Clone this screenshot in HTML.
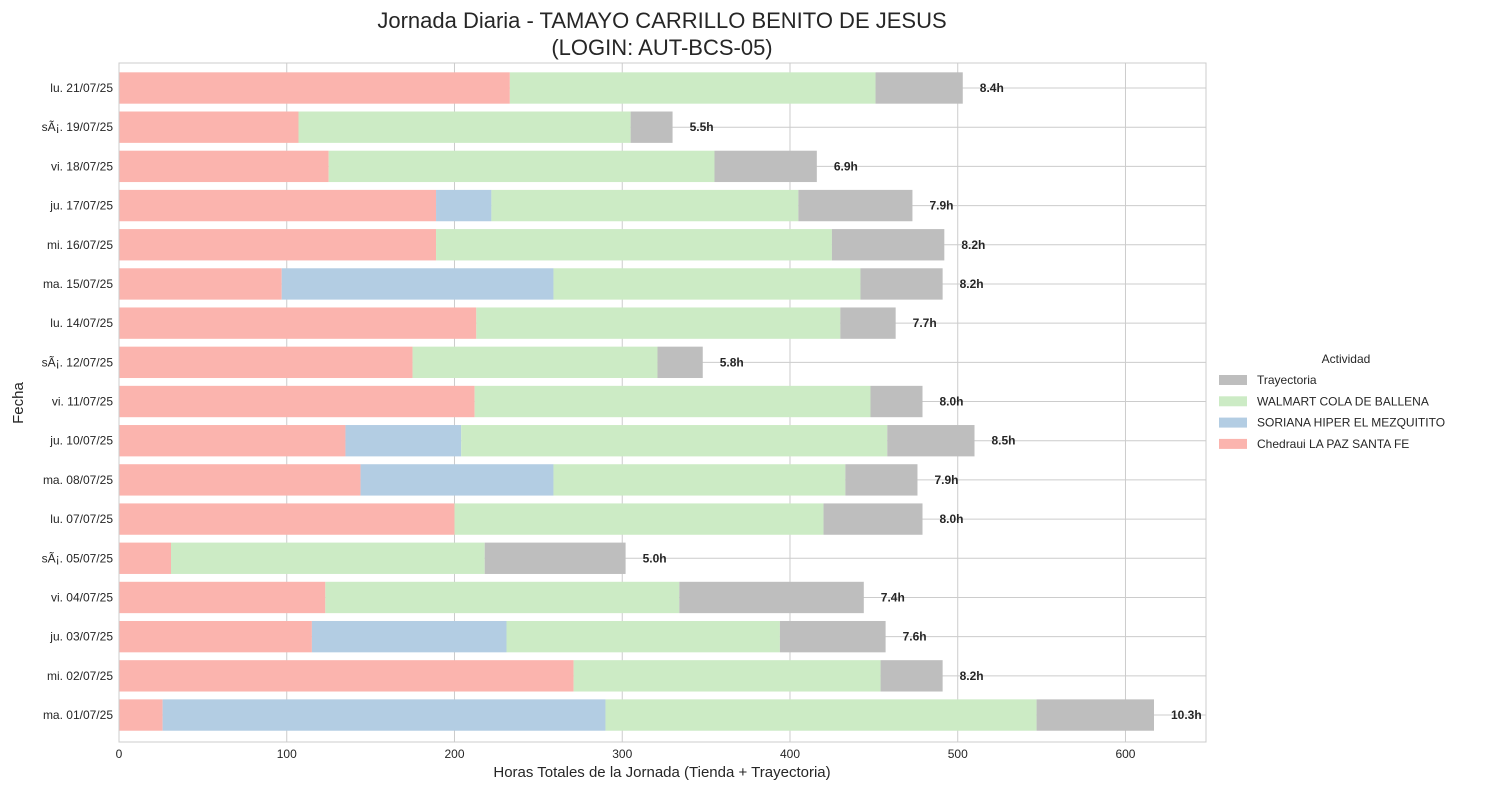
<!DOCTYPE html>
<html><head><meta charset="utf-8">
<style>
body{margin:0;background:#fff;font-family:"Liberation Sans","DejaVu Sans",sans-serif;}
svg text{font-family:"Liberation Sans","DejaVu Sans",sans-serif;}
</style></head>
<body>
<svg id="chart" width="1489" height="790" xmlns="http://www.w3.org/2000/svg"></svg>
<script>
const categories = ["lu. 21/07/25","sÃ¡. 19/07/25","vi. 18/07/25","ju. 17/07/25","mi. 16/07/25","ma. 15/07/25","lu. 14/07/25","sÃ¡. 12/07/25","vi. 11/07/25","ju. 10/07/25","ma. 08/07/25","lu. 07/07/25","sÃ¡. 05/07/25","vi. 04/07/25","ju. 03/07/25","mi. 02/07/25","ma. 01/07/25"];
const chedraui = [233,107,125,189,189,97,213,175,212,135,144,200,31,123,115,271,26];
const soriana  = [0,0,0,33,0,162,0,0,0,69,115,0,0,0,116,0,264];
const walmart  = [218,198,230,183,236,183,217,146,236,254,174,220,187,211,163,183,257];
const trayectoria = [52,25,61,68,67,49,33,27,31,52,43,59,84,110,63,37,70];
const totalLabels = ["8.4h","5.5h","6.9h","7.9h","8.2h","8.2h","7.7h","5.8h","8.0h","8.5h","7.9h","8.0h","5.0h","7.4h","7.6h","8.2h","10.3h"];
const xTicks = [0,100,200,300,400,500,600];

const NS="http://www.w3.org/2000/svg";
const svg=document.getElementById('chart');
const L=119,R=1206,T=63,B=742,XMAX=648;
const x=v=>L+v*(R-L)/XMAX;
const step=39.19;
const yc=i=>88+step*i;
const bh=step*0.8;
function el(tag,attrs,txt){const e=document.createElementNS(NS,tag);for(const k in attrs)e.setAttribute(k,attrs[k]);if(txt!==undefined)e.textContent=txt;svg.appendChild(e);return e;}

xTicks.forEach(t=>{
  const g=el('line',{x1:x(t),x2:x(t),y1:T,y2:B,stroke:'#cccccc','stroke-width':1});
  
  
  const tl=el('text',{x:x(t),y:B+16,'text-anchor':'middle','font-size':12,fill:'#262626'},t);
  
  
});
categories.forEach((c,i)=>{
  const g=el('line',{x1:L,x2:R,y1:yc(i),y2:yc(i),stroke:'#cccccc','stroke-width':1});
  
  
  const tl=el('text',{x:L-6,y:yc(i)+4,'text-anchor':'end','font-size':12,fill:'#262626'},c);
  
  
});

const series=[[chedraui,'#fbb4ae','chedraui'],[soriana,'#b3cde3','soriana'],[walmart,'#ccebc5','walmart'],[trayectoria,'#bebebe','trayectoria']];
categories.forEach((c,i)=>{
  let acc=0;
  series.forEach(([arr,col,nm])=>{
    const v=arr[i];
    if(v>0){
      const r=el('rect',{x:x(acc),y:yc(i)-bh/2,width:x(acc+v)-x(acc),height:bh,fill:col});
      
      
    }
    acc+=v;
  });
  const t=el('text',{x:x(acc)+17,y:yc(i)+4,'font-size':12,'font-weight':'bold',fill:'#262626'},totalLabels[i]);
  
  
});

const fr=el('rect',{x:L,y:T,width:R-L,height:B-T,fill:'none',stroke:'#cccccc','stroke-width':1});



const t1=el('text',{x:662,y:28,'text-anchor':'middle','font-size':22,fill:'#262626'},'Jornada Diaria - TAMAYO CARRILLO BENITO DE JESUS');


const t2=el('text',{x:662,y:55,'text-anchor':'middle','font-size':22,fill:'#262626'},'(LOGIN: AUT-BCS-05)');


const xl=el('text',{x:662,y:777,'text-anchor':'middle','font-size':15,fill:'#262626'},'Horas Totales de la Jornada (Tienda + Trayectoria)');


const yl=el('text',{x:23,y:403,'text-anchor':'middle','font-size':15,fill:'#262626',transform:'rotate(-90 23 403)'},'Fecha');



const lt=el('text',{x:1346,y:363,'text-anchor':'middle','font-size':12,fill:'#262626'},'Actividad');


const legend=[['Trayectoria','#bebebe'],['WALMART COLA DE BALLENA','#ccebc5'],['SORIANA HIPER EL MEZQUITITO','#b3cde3'],['Chedraui LA PAZ SANTA FE','#fbb4ae']];
legend.forEach(([n,c],k)=>{
  const y=380+k*21.3;
  const p=el('rect',{x:1219,y:y-5,width:28,height:10,fill:c});
  
  
  const tx=el('text',{x:1257,y:y+4,'font-size':12,fill:'#262626'},n);
  
  
});
</script>
</body></html>
